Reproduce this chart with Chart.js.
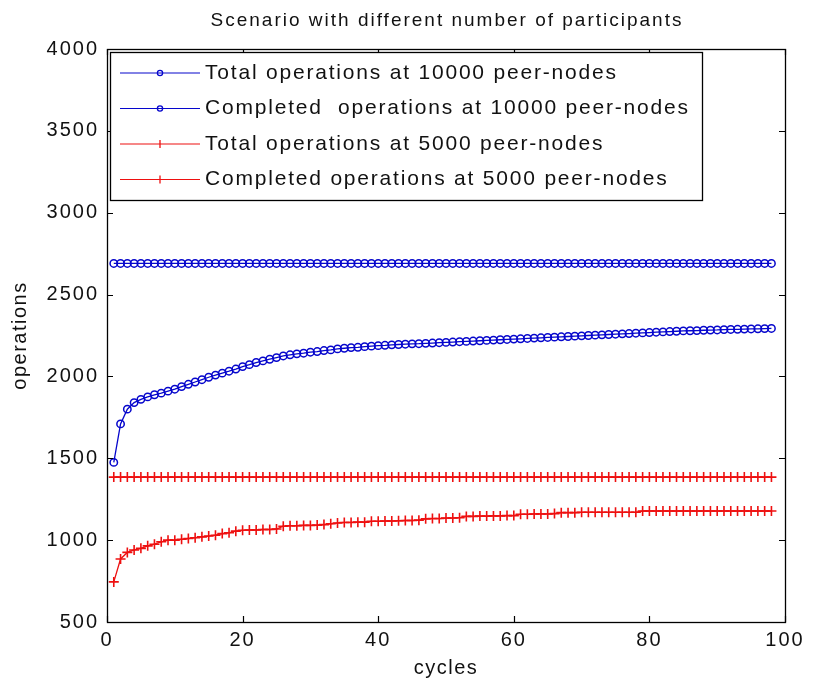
<!DOCTYPE html>
<html><head><meta charset="utf-8">
<script src="https://cdn.jsdelivr.net/npm/chart.js@4/dist/chart.umd.min.js"></script>
<style>html,body{margin:0;padding:0;background:#fff}#wrap{width:815px;height:686px}</style>
</head><body><div id="wrap"><canvas id="c" width="815" height="686"></canvas></div>
<script>
const titleText = 'Scenario with different number of participants';
const xTitle = 'cycles';
const yTitle = 'operations';
const seriesLabels = [
  'Total operations at 10000 peer-nodes',
  'Completed  operations at 10000 peer-nodes',
  'Total operations at 5000 peer-nodes',
  'Completed operations at 5000 peer-nodes'
];
const xTicks = [0, 20, 40, 60, 80, 100];
const yTicks = [500, 1000, 1500, 2000, 2500, 3000, 3500, 4000];

const cycles = [1,2,3,4,5,6,7,8,9,10,11,12,13,14,15,16,17,18,19,20,21,22,23,24,25,26,27,28,29,30,31,32,33,34,35,36,37,38,39,40,41,42,43,44,45,46,47,48,49,50,51,52,53,54,55,56,57,58,59,60,61,62,63,64,65,66,67,68,69,70,71,72,73,74,75,76,77,78,79,80,81,82,83,84,85,86,87,88,89,90,91,92,93,94,95,96,97,98];

const total10000 = [2690,2690,2690,2690,2690,2690,2690,2690,2690,2690,2690,2690,2690,2690,2690,2690,2690,2690,2690,2690,2690,2690,2690,2690,2690,2690,2690,2690,2690,2690,2690,2690,2690,2690,2690,2690,2690,2690,2690,2690,2690,2690,2690,2690,2690,2690,2690,2690,2690,2690,2690,2690,2690,2690,2690,2690,2690,2690,2690,2690,2690,2690,2690,2690,2690,2690,2690,2690,2690,2690,2690,2690,2690,2690,2690,2690,2690,2690,2690,2690,2690,2690,2690,2690,2690,2690,2690,2690,2690,2690,2690,2690,2690,2690,2690,2690,2690,2690];

const completed10000 = [1475,1710,1800,1840,1860,1875,1888,1898,1910,1922,1938,1952,1966,1980,1995,2008,2020,2032,2045,2060,2072,2085,2095,2105,2115,2125,2132,2138,2142,2148,2152,2158,2162,2168,2172,2176,2178,2182,2185,2188,2190,2193,2195,2197,2199,2200,2202,2204,2206,2208,2210,2212,2214,2216,2218,2220,2222,2224,2226,2228,2230,2232,2234,2236,2238,2240,2242,2244,2246,2248,2250,2252,2254,2256,2258,2260,2262,2264,2266,2268,2270,2272,2274,2276,2278,2279,2280,2282,2283,2284,2286,2287,2288,2289,2290,2291,2292,2293];

const total5000 = [1385,1385,1385,1385,1385,1385,1385,1385,1385,1385,1385,1385,1385,1385,1385,1385,1385,1385,1385,1385,1385,1385,1385,1385,1385,1385,1385,1385,1385,1385,1385,1385,1385,1385,1385,1385,1385,1385,1385,1385,1385,1385,1385,1385,1385,1385,1385,1385,1385,1385,1385,1385,1385,1385,1385,1385,1385,1385,1385,1385,1385,1385,1385,1385,1385,1385,1385,1385,1385,1385,1385,1385,1385,1385,1385,1385,1385,1385,1385,1385,1385,1385,1385,1385,1385,1385,1385,1385,1385,1385,1385,1385,1385,1385,1385,1385,1385,1385];

const completed5000 = [745,885,925,940,950,965,975,990,1000,1000,1005,1010,1015,1020,1025,1030,1040,1045,1055,1060,1062,1062,1065,1065,1068,1085,1088,1088,1090,1090,1092,1095,1100,1105,1108,1108,1110,1110,1115,1115,1117,1117,1118,1120,1120,1122,1130,1132,1132,1135,1135,1137,1145,1145,1147,1147,1148,1148,1150,1150,1158,1158,1160,1160,1160,1162,1168,1168,1168,1170,1170,1170,1170,1170,1170,1170,1170,1170,1178,1178,1178,1178,1178,1178,1178,1178,1178,1178,1178,1178,1178,1178,1178,1178,1178,1178,1178,1178];

const BLUE = '#0606cc';
const RED = '#ee1010';
const FONT = "'Liberation Sans', Arial, sans-serif";

function pts(vals){ return cycles.map((c,i)=>({x:c,y:vals[i]})); }

const datasets = [
  {label: seriesLabels[0], data: pts(total10000), borderColor: BLUE, backgroundColor: 'rgba(0,0,0,0)', pointStyle:'circle', pointRadius:3.7, pointBorderWidth:1.5, borderWidth:1.3},
  {label: seriesLabels[1], data: pts(completed10000), borderColor: BLUE, backgroundColor: 'rgba(0,0,0,0)', pointStyle:'circle', pointRadius:3.7, pointBorderWidth:1.5, borderWidth:1.3},
  {label: seriesLabels[2], data: pts(total5000), borderColor: RED, backgroundColor: RED, pointStyle:'cross', pointRadius:5, pointBorderWidth:1.6, borderWidth:1.3},
  {label: seriesLabels[3], data: pts(completed5000), borderColor: RED, backgroundColor: RED, pointStyle:'cross', pointRadius:5, pointBorderWidth:1.6, borderWidth:1.3}
];

const decor = {
  id: 'decor',
  beforeDraw(chart){ chart.ctx.letterSpacing = '2px'; },
  afterDraw(chart){
    const ctx = chart.ctx, a = chart.chartArea, xs = chart.scales.x, ys = chart.scales.y;
    ctx.save();
    ctx.strokeStyle = '#000'; ctx.lineWidth = 1.3;
    ctx.strokeRect(Math.round(a.left)+0.5, Math.round(a.top)+0.5, Math.round(a.right-a.left), Math.round(a.bottom-a.top));
    const tl = 6;
    ctx.lineWidth = 1.2;
    ctx.beginPath();
    xTicks.forEach(v=>{ const px = Math.round(xs.getPixelForValue(v))+0.5;
      ctx.moveTo(px, a.bottom); ctx.lineTo(px, a.bottom-tl);
      ctx.moveTo(px, a.top); ctx.lineTo(px, a.top+tl); });
    yTicks.forEach(v=>{ const py = Math.round(ys.getPixelForValue(v))+0.5;
      ctx.moveTo(a.left, py); ctx.lineTo(a.left+tl, py);
      ctx.moveTo(a.right, py); ctx.lineTo(a.right-tl, py); });
    ctx.stroke();
    // title
    ctx.fillStyle = '#111';
    ctx.textAlign = 'center'; ctx.textBaseline = 'middle';
    ctx.font = '19px ' + FONT; ctx.letterSpacing = '2px';
    ctx.fillText(titleText, (a.left+a.right)/2 + 1, 21);
    // axis titles
    ctx.font = '20px ' + FONT; ctx.letterSpacing = '1.5px';
    ctx.fillText(xTitle, (a.left+a.right)/2, 668);
    ctx.save(); ctx.translate(20, (a.top+a.bottom)/2); ctx.rotate(-Math.PI/2);
    ctx.fillText(yTitle, 0, 0); ctx.restore();
    // legend
    const lx = a.left + 3, ly = a.top + 3, lw = 592, lh = 148;
    ctx.fillStyle = '#fff';
    ctx.fillRect(lx, ly, lw, lh);
    ctx.strokeStyle = '#000'; ctx.lineWidth = 1.3;
    ctx.strokeRect(Math.round(lx)+0.5, Math.round(ly)+0.5, lw, lh);
    chart.data.datasets.forEach((ds,i)=>{
      const y = ly + 21 + i*35.5;
      ctx.strokeStyle = ds.borderColor; ctx.lineWidth = 1.2;
      ctx.beginPath(); ctx.moveTo(lx+10, y); ctx.lineTo(lx+90, y); ctx.stroke();
      const mx = lx + 50;
      ctx.lineWidth = 1.3;
      if (ds.pointStyle === 'circle'){
        ctx.beginPath(); ctx.arc(mx, y, 2.6, 0, Math.PI*2); ctx.stroke();
      } else {
        ctx.beginPath(); ctx.moveTo(mx, y-4); ctx.lineTo(mx, y+4); ctx.stroke();
      }
      ctx.fillStyle = '#111'; ctx.textAlign = 'left'; ctx.textBaseline = 'middle';
      ctx.font = '21px ' + FONT; ctx.letterSpacing = '1.8px';
      ctx.fillText(ds.label, lx + 95, y);
    });
    ctx.restore();
  }
};

new Chart(document.getElementById('c'), {
  type: 'line',
  data: { datasets },
  options: {
    responsive: false, animation: false,
    layout: { padding: { top: 49, right: 30, bottom: 0, left: 0 } },
    plugins: { legend: { display: false }, title: { display: false }, tooltip: { enabled: false } },
    scales: {
      x: { type: 'linear', min: 0, max: 100,
        afterFit(s){ s.height = 64; },
        afterBuildTicks(s){ s.ticks = xTicks.map(v=>({value:v})); },
        grid: { display: true, drawOnChartArea: false, drawTicks: false },
        border: { display: false },
        ticks: { color: '#111', font: { size: 20, family: FONT }, padding: 6, maxRotation: 0, callback: v => String(v) } },
      y: { type: 'linear', min: 500, max: 4000,
        afterFit(s){ s.width = 107; },
        afterBuildTicks(s){ s.ticks = yTicks.map(v=>({value:v})); },
        grid: { display: true, drawOnChartArea: false, drawTicks: false },
        border: { display: false },
        ticks: { color: '#111', font: { size: 20, family: FONT }, padding: 8, callback: v => String(v) } }
    }
  },
  plugins: [decor]
});
</script>
</body></html>
